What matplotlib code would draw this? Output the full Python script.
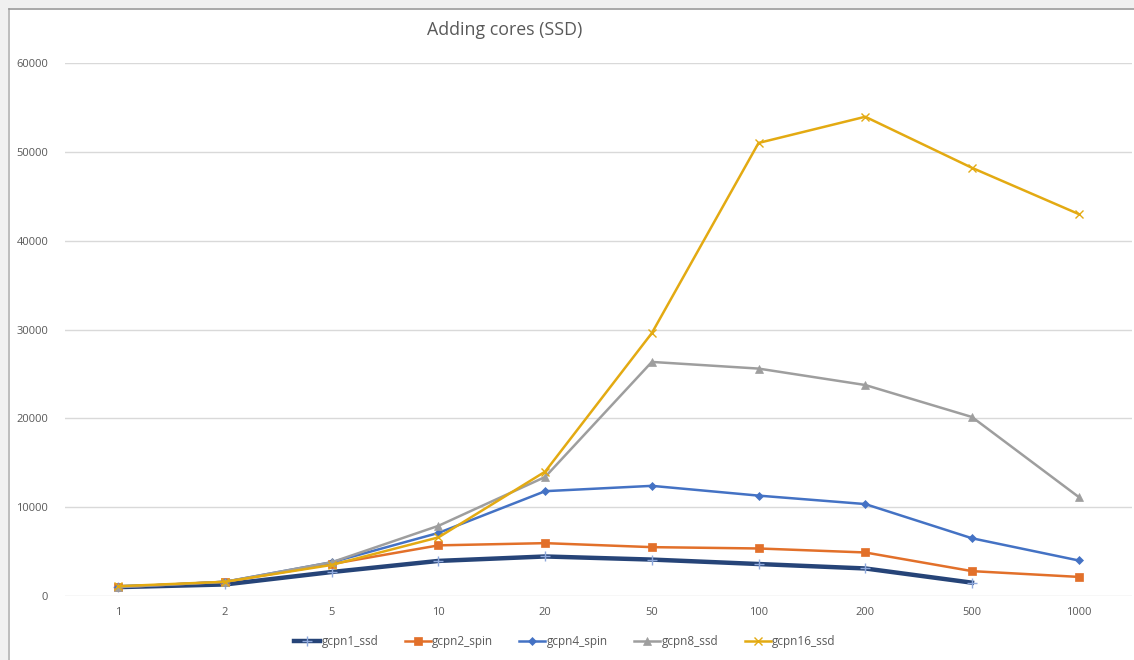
import matplotlib
matplotlib.use('Agg')
from matplotlib import pyplot as plt
from matplotlib.patches import Rectangle
from matplotlib.lines import Line2D

plt.rcParams['font.family'] = ['Open Sans', 'DejaVu Sans']

cores = ['1', '2', '5', '10', '20', '50', '100', '200', '500', '1000']

gcpn1_ssd = [1000, 1300, 2700, 3950, 4450, 4100, 3600, 3100, 1500]
gcpn2_spin = [1000, 1600, 3600, 5700, 5950, 5500, 5350, 4900, 2800, 2150]
gcpn4_spin = [1000, 1600, 3800, 7100, 11800, 12400, 11300, 10350, 6500, 4000]
gcpn8_ssd = [1000, 1600, 3800, 7900, 13400, 26350, 25600, 23750, 20150, 11150]
gcpn16_ssd = [1100, 1600, 3500, 6600, 14000, 29600, 51000, 53950, 48200, 43000]

series = [
    ('gcpn1_ssd', gcpn1_ssd, '#264478', '+', 3.2, 7),
    ('gcpn2_spin', gcpn2_spin, '#E2702A', 's', 1.8, 5.5),
    ('gcpn4_spin', gcpn4_spin, '#4472C4', 'D', 1.8, 4.5),
    ('gcpn8_ssd', gcpn8_ssd, '#9E9E9E', '^', 1.8, 6),
    ('gcpn16_ssd', gcpn16_ssd, '#E3AA12', 'x', 1.8, 6),
]

W, H = 1134, 660
fig = plt.figure(figsize=(W / 100, H / 100), dpi=100)

# window frame on the top and left edges
fig.patches.append(Rectangle((0, 0), 8 / W, 1, transform=fig.transFigure,
                             facecolor='#f0f0f0', edgecolor='none', zorder=0))
fig.patches.append(Rectangle((0, 1 - 8 / H), 1, 8 / H, transform=fig.transFigure,
                             facecolor='#f0f0f0', edgecolor='none', zorder=0))
fig.lines.append(Line2D([8.5 / W, 8.5 / W], [0, 1 - 8.5 / H], transform=fig.transFigure,
                        color='#b0b0b0', lw=1.2))
fig.lines.append(Line2D([8.5 / W, 1], [1 - 8.5 / H, 1 - 8.5 / H], transform=fig.transFigure,
                        color='#9a9a9a', lw=1.2))

ax = fig.add_axes([65 / W, (H - 596) / H, (1132 - 65) / W, (596 - 63) / H])
x = list(range(len(cores)))

for name, vals, color, marker, lw, ms in series:
    mec = '#8fa9dc' if marker == '+' else color
    ax.plot(x[:len(vals)], vals, color=color, lw=lw, marker=marker, markersize=ms,
            markeredgecolor=mec, markerfacecolor=color,
            markeredgewidth=1.0 if marker in '+x' else 0.5, label=name)

ax.set_xlim(-0.5, len(cores) - 0.5)
ax.set_ylim(0, 60000)
ax.set_yticks(range(0, 60001, 10000))
ax.set_xticks(x)
ax.set_xticklabels(cores)
ax.grid(axis='y', color='#d9d9d9', lw=1.0)
ax.set_axisbelow(True)
for s in ax.spines.values():
    s.set_visible(False)
ax.tick_params(length=0, colors='#595959', labelsize=8)
ax.tick_params(axis='y', pad=12)
ax.tick_params(axis='x', pad=8)

fig.text(505 / W, 1 - 30 / H, 'Adding cores (SSD)', ha='center', va='center',
         fontsize=12.8, color='#595959')

fig.legend(loc='center', bbox_to_anchor=(565 / W, 1 - 642 / H), ncol=5, frameon=False,
           fontsize=8.5, labelcolor='#595959', handlelength=2.2, handletextpad=0.15,
           columnspacing=2.2)

fig.savefig('out.png', dpi=100, facecolor='white')
